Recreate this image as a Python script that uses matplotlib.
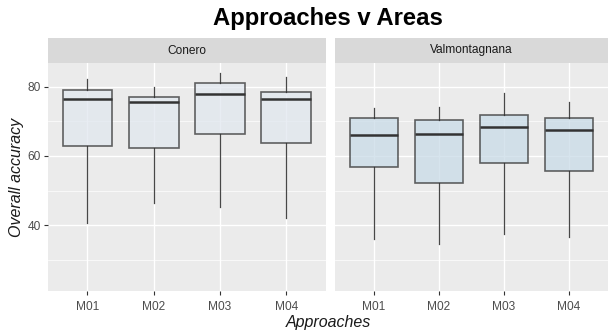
import matplotlib
matplotlib.use("Agg")
import matplotlib.pyplot as plt
from matplotlib.ticker import FixedLocator

plt.rcParams['font.family'] = ['Liberation Sans', 'DejaVu Sans']

# Data: five-number summaries of overall accuracy per approach and area
approaches = ["M01", "M02", "M03", "M04"]
areas = ["Conero", "Valmontagnana"]

conero_low = [40.5, 46.4, 45.2, 42.2]
conero_q1 = [62.9, 62.3, 66.3, 63.6]
conero_med = [76.4, 75.6, 78.0, 76.4]
conero_q3 = [79.1, 77.1, 81.0, 78.4]
conero_high = [82.2, 79.8, 84.0, 82.8]

valm_low = [35.9, 34.7, 37.3, 36.7]
valm_q1 = [56.8, 52.1, 57.8, 55.5]
valm_med = [65.9, 66.3, 68.2, 67.5]
valm_q3 = [71.0, 70.3, 71.9, 71.0]
valm_high = [73.7, 74.0, 78.2, 75.6]

y_ticks = [40, 60, 80]
y_minor = [30, 50, 70]

area_stats = {
    "Conero": (conero_low, conero_q1, conero_med, conero_q3, conero_high),
    "Valmontagnana": (valm_low, valm_q1, valm_med, valm_q3, valm_high),
}
area_fill = {"Conero": "#e1e7ef", "Valmontagnana": "#c9dbe7"}

W, H = 608, 333
fig = plt.figure(figsize=(W / 100, H / 100), dpi=100)

panel_bg = "#EBEBEB"
strip_bg = "#D9D9D9"
tick_col = "#4D4D4D"

panels = [(47.7, 326.0), (335.0, 608.0)]
p_top, p_bot = 62.7, 291.3
s_top = 38.3

positions = list(range(1, len(approaches) + 1))

axes = []
for (x0, x1), area in zip(panels, areas):
    ax = fig.add_axes([x0 / W, (H - p_bot) / H, (x1 - x0) / W, (p_bot - p_top) / H])
    ax.set_facecolor(panel_bg)
    for sp in ax.spines.values():
        sp.set_visible(False)

    low, q1, med, q3, high = area_stats[area]
    stats = [
        dict(whislo=lo, q1=a, med=m, q3=b, whishi=hi, fliers=[])
        for lo, a, m, b, hi in zip(low, q1, med, q3, high)
    ]
    ax.bxp(
        stats,
        positions=positions,
        widths=0.75,
        patch_artist=True,
        showcaps=False,
        manage_ticks=False,
        boxprops=dict(facecolor=area_fill[area], edgecolor="#333333", alpha=0.75, linewidth=1.2),
        medianprops=dict(color="#333333", linewidth=1.8),
        whiskerprops=dict(color="#333333", linewidth=0.9, alpha=0.9),
        zorder=3,
    )

    ax.set_xlim(0.4, 4.6)
    ax.set_ylim(20.9, 86.9)
    ax.yaxis.set_major_locator(FixedLocator(y_ticks))
    ax.yaxis.set_minor_locator(FixedLocator(y_minor))
    ax.set_xticks(positions)
    ax.set_xticklabels(approaches)
    ax.grid(True, which="major", color="white", linewidth=1.0)
    ax.grid(True, which="minor", axis="y", color="white", linewidth=0.5)
    ax.set_axisbelow(True)
    ax.tick_params(axis="both", which="major", length=3, width=0.8, color="#333333",
                   labelsize=8.6, labelcolor=tick_col, pad=2)
    ax.tick_params(axis="y", which="minor", length=0)
    ax.tick_params(axis="x", pad=4)

    # facet strip
    sax = fig.add_axes([x0 / W, (H - p_top) / H, (x1 - x0) / W, (p_top - s_top) / H])
    sax.set_facecolor(strip_bg)
    sax.set_xticks([])
    sax.set_yticks([])
    for sp in sax.spines.values():
        sp.set_visible(False)
    sax.text(0.5, 0.5, area, ha="center", va="center", fontsize=8.6, color="#1A1A1A",
             transform=sax.transAxes)
    axes.append(ax)

axes[1].tick_params(axis="y", which="both", left=False, labelleft=False)

fig.text(328 / W, 1 - 18.5 / H, "Approaches v Areas", ha="center", va="center",
         fontsize=17.2, fontweight="bold", color="black")
fig.text(328 / W, 1 - 323 / H, "Approaches", ha="center", va="center",
         fontsize=11.5, style="italic", color="#1A1A1A")
fig.text(17 / W, 1 - 177 / H, "Overall accuracy", ha="center", va="center",
         rotation=90, fontsize=11.5, style="italic", color="#1A1A1A")

fig.savefig("out.png", dpi=100, facecolor="white")
